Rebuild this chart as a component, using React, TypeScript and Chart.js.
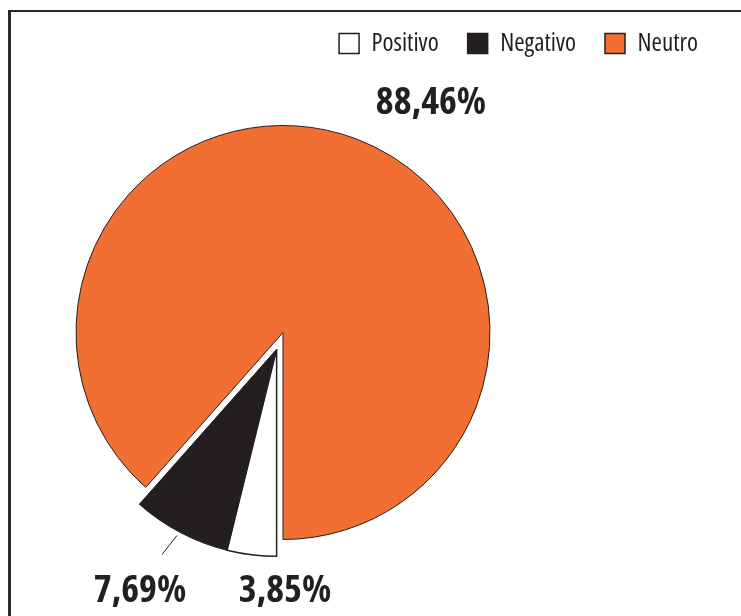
import { useEffect, useRef } from "react";
import { Chart, registerables } from "chart.js";

Chart.register(...registerables);

// ---- data ----
const categories: string[] = ["Positivo", "Negativo", "Neutro"];
const values: number[] = [3.85, 7.69, 88.46];

// ---- styles ----
const sliceColors = ["#ffffff", "#231f20", "#f26f33"];
const sliceBorderWidths = [1.5, 1, 1];
const explodedSlices = [0, 1]; // Positivo + Negativo pulled out together
const EXPLODE = 18;
const INK = "#231f20";
const FONT = '"Open Sans", "Roboto Condensed", sans-serif';

// label anchors relative to the pie centre (px)
const labelAnchors = [
  { dx: 2, dy: 259 },
  { dx: -143, dy: 259 },
  { dx: 148, dy: -229 },
];

const fmt = (v: number) => v.toFixed(2).replace(".", ",") + "%";

// moves the exploded slices as one group along the group's mid angle
const explodePlugin = {
  id: "explodeGroup",
  beforeDatasetsDraw(chart: any) {
    const meta = chart.getDatasetMeta(0);
    const group = explodedSlices.map((i) => meta.data[i]).filter(Boolean);
    if (!group.length) return;
    const start = Math.min(...group.map((a: any) => a.startAngle));
    const end = Math.max(...group.map((a: any) => a.endAngle));
    const mid = (start + end) / 2;
    const dx = Math.cos(mid) * EXPLODE;
    const dy = Math.sin(mid) * EXPLODE;
    group.forEach((el: any) => {
      if (!el.__origDraw) el.__origDraw = el.draw;
      el.draw = function (ctx: CanvasRenderingContext2D, area: any) {
        ctx.save();
        ctx.translate(dx, dy);
        this.__origDraw(ctx, area);
        ctx.restore();
      };
    });
  },
};

const labelPlugin = {
  id: "pieLabels",
  afterDatasetsDraw(chart: any) {
    const meta = chart.getDatasetMeta(0);
    const ctx = chart.ctx as CanvasRenderingContext2D;
    const arc0 = meta.data[0];
    if (!arc0) return;
    const cx = arc0.x;
    const cy = arc0.y;
    ctx.save();
    // leader line for the Negativo slice
    ctx.strokeStyle = INK;
    ctx.lineWidth = 1;
    ctx.beginPath();
    ctx.moveTo(cx - 106, cy + 203);
    ctx.lineTo(cx - 121, cy + 222);
    ctx.stroke();

    ctx.fillStyle = INK;
    ctx.font = `condensed bold 38px ${FONT}`;
    ctx.textAlign = "center";
    ctx.textBaseline = "middle";
    const data = chart.data.datasets[0].data as number[];
    data.forEach((v, i) => {
      const a = labelAnchors[i];
      ctx.fillText(fmt(v), cx + a.dx, cy + a.dy);
    });
    ctx.restore();
  },
};

export default function App() {
  const ref = useRef<HTMLCanvasElement | null>(null);

  useEffect(() => {
    if (!ref.current) return;
    const baseGen = (Chart as any).overrides.pie.plugins.legend.labels.generateLabels;
    const chart = new Chart(ref.current, {
      type: "pie",
      data: {
        labels: categories,
        datasets: [
          {
            data: values,
            backgroundColor: sliceColors,
            borderColor: INK,
            borderWidth: sliceBorderWidths,
            clip: false as any,
          },
        ],
      },
      options: {
        responsive: false,
        animation: false,
        rotation: 180,
        radius: 207,
        layout: { padding: { top: 0, left: 0, right: 0, bottom: 17 } },
        plugins: {
          legend: {
            display: true,
            position: "top",
            align: "end",
            labels: {
              boxWidth: 20,
              boxHeight: 20,
              padding: 29,
              color: INK,
              font: { family: FONT, size: 25, weight: "condensed" as any },
              generateLabels: (c: any) =>
                baseGen(c).map((l: any) => ({ ...l, strokeStyle: INK, lineWidth: 1.5 })),
            },
          },
          tooltip: { enabled: false },
        },
      } as any,
      plugins: [explodePlugin, labelPlugin],
    });
    return () => chart.destroy();
  }, []);

  return (
    <div
      style={{
        position: "absolute",
        left: 8,
        top: 10,
        width: 733,
        height: 606,
        boxSizing: "border-box",
        borderTop: "2px solid #2b2829",
        borderLeft: "3px solid #2b2829",
        overflow: "hidden",
        background: "#ffffff",
      }}
    >
      <canvas
        ref={ref}
        width={888}
        height={614}
        style={{ position: "absolute", left: -172, top: -10, width: 888, height: 614, display: "block" }}
      />
    </div>
  );
}
